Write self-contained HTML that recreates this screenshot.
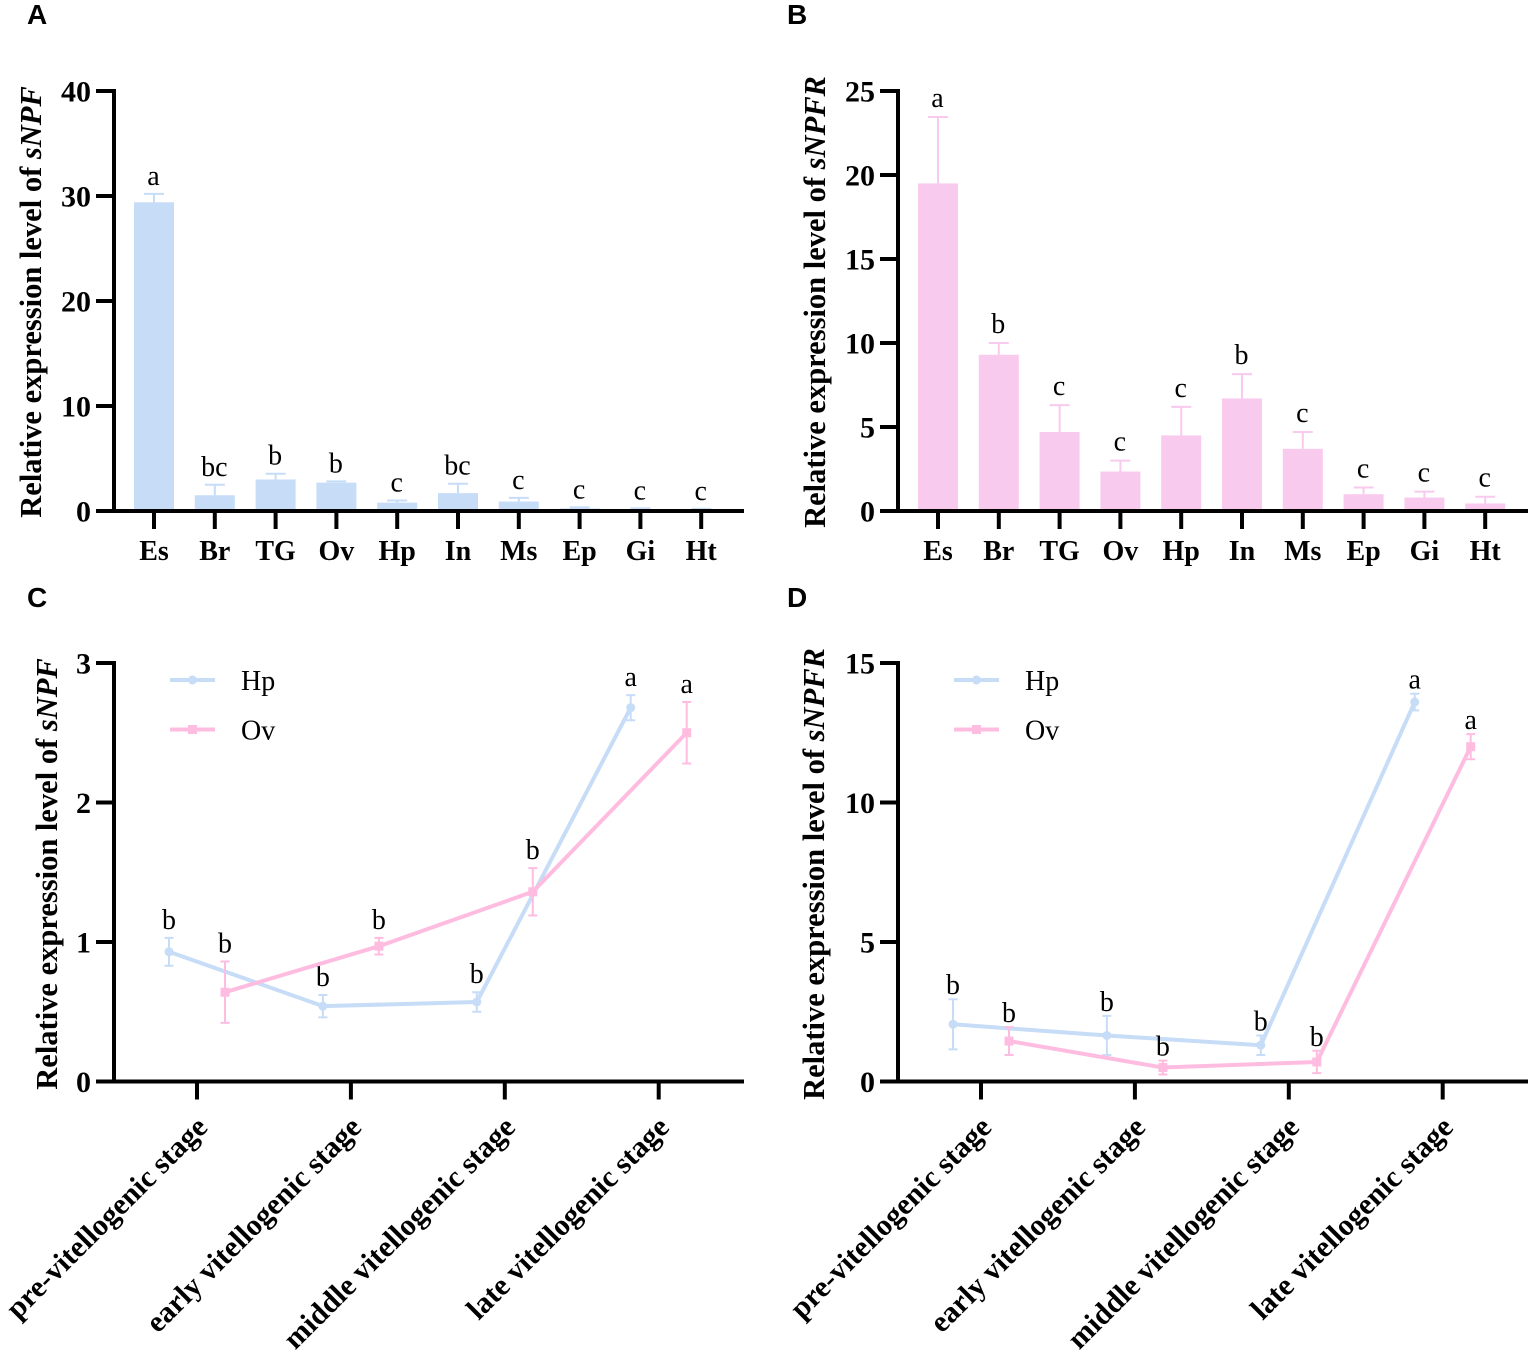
<!DOCTYPE html>
<html lang="en">
<head>
<meta charset="utf-8">
<title>Relative expression of sNPF and sNPFR</title>
<style>
html,body{margin:0;padding:0;background:#fff;width:1535px;height:1356px;overflow:hidden}
svg{display:block}
text{font-family:"Liberation Serif",serif;fill:#000}
.panel-letter{font-family:"Liberation Sans",sans-serif;font-weight:700;font-size:28px}
.y-title{font-weight:700;font-size:30.5px;text-anchor:middle}
.tick{font-weight:700;font-size:30px}
.cat{font-weight:700;font-size:28px}
.stage{font-weight:700;font-size:30px}
.sig{font-size:28px;text-anchor:middle}
.legend{font-size:28px}
</style>
</head>
<body>
<svg id="figure" xmlns="http://www.w3.org/2000/svg" width="1535" height="1356" viewBox="0 0 1535 1356">
  <rect x="0" y="0" width="1535" height="1356" fill="#fff"/>

  <text class="panel-letter" x="27" y="24">A</text>
  <text class="panel-letter" x="787" y="24">B</text>
  <text class="panel-letter" x="27" y="607">C</text>
  <text class="panel-letter" x="787" y="607">D</text>

  <text class="y-title" transform="translate(41,302) rotate(-90)">Relative expression level of <tspan font-style="italic">sNPF</tspan></text>
  <text class="y-title" transform="translate(825,302) rotate(-90)">Relative expression level of <tspan font-style="italic">sNPFR</tspan></text>
  <text class="y-title" transform="translate(57,874) rotate(-90)">Relative expression level of <tspan font-style="italic">sNPF</tspan></text>
  <text class="y-title" transform="translate(824,874) rotate(-90)">Relative expression level of <tspan font-style="italic">sNPFR</tspan></text>

  <g id="panel-a"></g>
  <g id="panel-b"></g>
  <g id="panel-c"></g>
  <g id="panel-d"></g>
</svg>

<script>
// ---- data ----
const tissues = ['Es','Br','TG','Ov','Hp','In','Ms','Ep','Gi','Ht'];
const stages = ['pre-vitellogenic stage','early vitellogenic stage','middle vitellogenic stage','late vitellogenic stage'];

const snpfTissueValues = [29.4,1.5,3.0,2.7,0.8,1.7,0.9,0.25,0.15,0.1];
const snpfTissueErrors = [0.8,1.0,0.55,0.12,0.2,0.9,0.35,0.1,0.1,0.1];
const snpfTissueLetters = ['a','bc','b','b','c','bc','c','c','c','c'];
const snpfTissueTicks = [0,10,20,30,40];

const snpfrTissueValues = [19.5,9.3,4.7,2.35,4.5,6.7,3.7,1.0,0.8,0.45];
const snpfrTissueErrors = [3.95,0.7,1.6,0.65,1.7,1.45,1.0,0.4,0.35,0.4];
const snpfrTissueLetters = ['a','b','c','c','c','b','c','c','c','c'];
const snpfrTissueTicks = [0,5,10,15,20,25];

const snpfHpValues = [0.93,0.54,0.57,2.68];
const snpfHpErrors = [0.10,0.08,0.07,0.09];
const snpfHpLetters = ['b','b','b','a'];
const snpfOvValues = [0.64,0.97,1.36,2.50];
const snpfOvErrors = [0.22,0.06,0.17,0.22];
const snpfOvLetters = ['b','b','b','a'];
const snpfStageTicks = [0,1,2,3];

const snpfrHpValues = [2.05,1.65,1.3,13.6];
const snpfrHpErrors = [0.9,0.7,0.35,0.3];
const snpfrHpLetters = ['b','b','b','a'];
const snpfrOvValues = [1.45,0.5,0.7,12.0];
const snpfrOvErrors = [0.5,0.25,0.4,0.45];
const snpfrOvLetters = ['b','b','b','a'];
const snpfrStageTicks = [0,5,10,15];

// ---- helpers ----
const SVG_NS = 'http://www.w3.org/2000/svg';
const BLUE = '#c6dcf7';
const PINK_BAR = '#f8caee';
const PINK_LINE = '#febde0';
const AXIS_W = 4;

function make(parent, tag, attrs, content) {
  const node = document.createElementNS(SVG_NS, tag);
  Object.keys(attrs).forEach(function (k) { node.setAttribute(k, attrs[k]); });
  if (content !== undefined) node.textContent = content;
  parent.appendChild(node);
  return node;
}

function drawYAxis(g, axisX, yScale, ticks) {
  const top = yScale(ticks[ticks.length - 1]);
  const bottom = yScale(ticks[0]);
  const line = make(g, 'line', {x1: axisX, x2: axisX, y1: top - AXIS_W / 2, y2: bottom, stroke: '#000', 'stroke-width': AXIS_W});
  
  
  ticks.forEach(function (t) {
    const mark = make(g, 'line', {x1: axisX - 18, x2: axisX, y1: yScale(t), y2: yScale(t), stroke: '#000', 'stroke-width': AXIS_W});
    
    
    const label = make(g, 'text', {class: 'tick', x: axisX - 23, y: yScale(t) + 10.5, 'text-anchor': 'end'}, String(t));
    
    
  });
}

function drawXAxisLine(g, x1, x2, y) {
  const line = make(g, 'line', {x1: x1, x2: x2, y1: y, y2: y, stroke: '#000', 'stroke-width': AXIS_W});
  
  
}

function drawBarPanel(id, originX, cats, values, errors, letters, ticks, maxV, letterGap) {
  const g = document.getElementById(id);
  const baseY = 511, topY = 91, firstX = originX + 40, step = 60.8, barW = 40, capW = 20;
  const yScale = function (v) { return baseY - (v / maxV) * (baseY - topY); };
  const xScale = function (i) { return firstX + i * step; };

  cats.forEach(function (c, i) {
    const cx = xScale(i);
    const errLine = make(g, 'line', {x1: cx, x2: cx, y1: yScale(values[i] + errors[i]), y2: yScale(values[i]), stroke: id === 'panel-a' ? BLUE : PINK_BAR, 'stroke-width': 2});
    
    
    const cap = make(g, 'line', {x1: cx - capW / 2, x2: cx + capW / 2, y1: yScale(values[i] + errors[i]), y2: yScale(values[i] + errors[i]), stroke: id === 'panel-a' ? BLUE : PINK_BAR, 'stroke-width': 2});
    
    
    const bar = make(g, 'rect', {x: cx - barW / 2, y: yScale(values[i]), width: barW, height: baseY - yScale(values[i]), fill: id === 'panel-a' ? BLUE : PINK_BAR});
    
    
    const sig = make(g, 'text', {class: 'sig', x: cx - 0.5, y: yScale(values[i] + errors[i]) - letterGap}, letters[i]);
    
    
    const mark = make(g, 'line', {x1: cx, x2: cx, y1: baseY, y2: baseY + 18, stroke: '#000', 'stroke-width': AXIS_W});
    
    
    const label = make(g, 'text', {class: 'cat', x: cx, y: baseY + 49, 'text-anchor': 'middle'}, c);
    
    
  });
  drawYAxis(g, originX, yScale, ticks);
  drawXAxisLine(g, originX - 18, originX + 630, baseY);
}

function drawSeries(g, name, color, shape, xs, yScale, values, errors, letters, letterGap) {
  const pts = values.map(function (v, i) { return xs(i) + ',' + yScale(v); }).join(' ');
  const line = make(g, 'polyline', {points: pts, fill: 'none', stroke: color, 'stroke-width': 4, 'stroke-linejoin': 'round'});
  
  
  values.forEach(function (v, i) {
    const cx = xs(i), cy = yScale(v);
    const hi = yScale(v + errors[i]), lo = yScale(Math.max(v - errors[i], 0));
    const err = make(g, 'path', {d: 'M' + (cx - 4.5) + ' ' + hi + 'H' + (cx + 4.5) + 'M' + cx + ' ' + hi + 'V' + lo + 'M' + (cx - 4.5) + ' ' + lo + 'H' + (cx + 4.5), fill: 'none', stroke: color, 'stroke-width': 2});
    
    
    let pt;
    if (shape === 'circle') {
      pt = make(g, 'circle', {cx: cx, cy: cy, r: 4.5, fill: color});
    } else {
      pt = make(g, 'rect', {x: cx - 4.5, y: cy - 4.5, width: 9, height: 9, fill: color});
    }
    
    
    const sig = make(g, 'text', {class: 'sig', x: cx, y: hi - letterGap}, letters[i]);
    
    
  });
}

function drawLegendEntry(g, originX, y, name, color, shape) {
  const line = make(g, 'line', {x1: originX + 56, x2: originX + 101, y1: y, y2: y, stroke: color, 'stroke-width': 4});
  
  
  let pt;
  if (shape === 'circle') {
    pt = make(g, 'circle', {cx: originX + 78.5, cy: y, r: 4.5, fill: color});
  } else {
    pt = make(g, 'rect', {x: originX + 74, y: y - 4.5, width: 9, height: 9, fill: color});
  }
  
  
  const label = make(g, 'text', {class: 'legend', x: originX + 127, y: y + 10}, name);
  
  
}

function drawLinePanel(id, originX, cats, hpV, hpE, hpL, ovV, ovE, ovL, ticks, maxV, letterGap) {
  const g = document.getElementById(id);
  const baseY = 1081.5, topY = 663, step = 153.9, first = originX + 83;
  const yScale = function (v) { return baseY - (v / maxV) * (baseY - topY); };
  const xCenter = function (i) { return first + i * step; };
  const hpX = function (i) { return xCenter(i) - 28; };
  const ovX = function (i) { return xCenter(i) + 28; };

  drawSeries(g, 'Hp', BLUE, 'circle', hpX, yScale, hpV, hpE, hpL, letterGap);
  drawSeries(g, 'Ov', PINK_LINE, 'square', ovX, yScale, ovV, ovE, ovL, letterGap);

  cats.forEach(function (c, i) {
    const cx = xCenter(i);
    const mark = make(g, 'line', {x1: cx, x2: cx, y1: baseY, y2: baseY + 18, stroke: '#000', 'stroke-width': AXIS_W});
    
    
    const label = make(g, 'text', {class: 'stage', 'text-anchor': 'end', transform: 'translate(' + (cx + 12) + ',1129) rotate(-45)'}, c);
    
    
  });
  drawYAxis(g, originX, yScale, ticks);
  drawXAxisLine(g, originX - 18, originX + 630, baseY);
  drawLegendEntry(g, originX, 680, 'Hp', BLUE, 'circle');
  drawLegendEntry(g, originX, 729.5, 'Ov', PINK_LINE, 'square');
}

drawBarPanel('panel-a', 114, tissues, snpfTissueValues, snpfTissueErrors, snpfTissueLetters, snpfTissueTicks, 40, 9);
drawBarPanel('panel-b', 898, tissues, snpfrTissueValues, snpfrTissueErrors, snpfrTissueLetters, snpfrTissueTicks, 25, 10);
drawLinePanel('panel-c', 114, stages, snpfHpValues, snpfHpErrors, snpfHpLetters, snpfOvValues, snpfOvErrors, snpfOvLetters, snpfStageTicks, 3, 9);
drawLinePanel('panel-d', 898, stages, snpfrHpValues, snpfrHpErrors, snpfrHpLetters, snpfrOvValues, snpfrOvErrors, snpfrOvLetters, snpfrStageTicks, 15, 5);
</script>
</body>
</html>
